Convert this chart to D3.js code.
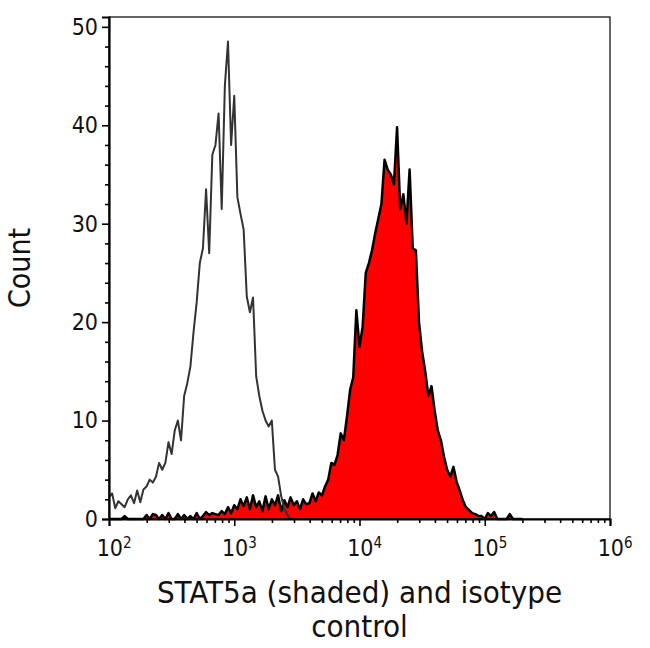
<!DOCTYPE html>
<html>
<head>
<meta charset="utf-8">
<script src="https://cdn.jsdelivr.net/npm/d3@7"></script>
<style>
  html, body { margin: 0; padding: 0; background: #fff; }
  svg { display: block; }
  text { font-family: "DejaVu Sans Condensed", "DejaVu Sans", sans-serif; font-stretch: condensed; fill: #111; }
</style>
</head>
<body>
<svg id="chart" width="650" height="648"></svg>
<script>
// ---- data (counts per log channel, channel width 0.025 decades starting at 10^2) ----
const channelStartLog = 2;
const channelStep = 0.025;

const isotypeCounts = [
  2.2, 2.6, 1.1, 1.8, 1.5, 1.2, 2.0, 2.4, 1.6, 2.9,
  1.7, 3.0, 3.3, 4.0, 3.7, 4.3, 5.7, 5.0, 5.7, 7.8,
  6.6, 9.0, 10.0, 8.0, 12.5, 13.8, 15.5, 19.0, 22.0, 26.0,
  27.5, 33.5, 27.0, 37.0, 38.0, 41.2, 31.5, 44.0, 48.5, 38.0,
  43.0, 32.7, 31.0, 29.4, 22.6, 21.0, 22.5, 14.5, 12.5, 11.0,
  10.0, 9.4, 10.0, 5.0, 4.3, 2.3, 1.0, 0.4, 0, 0,
  0, 0, 0, 0, 0, 0, 0, 0, 0, 0,
  0, 0, 0, 0, 0, 0, 0, 0, 0, 0,
  0, 0, 0, 0, 0, 0, 0, 0, 0, 0,
  0, 0, 0, 0, 0, 0, 0, 0, 0, 0,
  0, 0, 0, 0, 0, 0, 0, 0, 0, 0,
  0, 0, 0, 0, 0, 0, 0, 0, 0, 0,
  0, 0, 0, 0, 0, 0, 0, 0, 0, 0,
  0, 0, 0
];

const stat5aCounts = [
  0, 0, 0, 0, 0, 0.3, 0, 0, 0, 0,
  0, 0, 0.4, 0, 0.5, 0.4, 0, 0.4, 0, 0.6,
  0, 0, 0.5, 0, 0.4, 0, 0.3, 0, 0.6, 0,
  0.3, 0.7, 0.4, 0.6, 0.5, 0.4, 0.8, 0.5, 1.2, 0.6,
  1.4, 1.0, 2.0, 1.3, 2.2, 1.0, 2.4, 1.2, 1.8, 0.8,
  2.3, 1.0, 2.0, 1.4, 2.4, 0.8, 1.9, 1.2, 2.2, 1.4,
  1.8, 1.0, 2.0, 1.5, 1.6, 2.6, 1.8, 2.7, 2.4, 3.3,
  4.0, 5.7, 5.5, 6.5, 8.7, 8.0, 10.4, 13.1, 14.4, 21.2,
  17.5, 19.5, 25.0, 26.0, 27.3, 29.0, 30.5, 32.0, 36.5, 35.5,
  35.0, 34.0, 39.8, 31.5, 33.0, 30.0, 35.5, 27.5, 27.3, 20.0,
  17.0, 15.0, 12.5, 13.5, 11.0, 9.0, 8.0, 6.3, 5.0, 4.3,
  5.3, 3.8, 2.9, 1.9, 1.2, 0.9, 0.6, 0.5, 0.3, 0.3,
  0, 0.6, 0.3, 0.7, 0, 0, 0, 0, 0.5, 0,
  0, 0, 0
];

const yMajorTicks = [0, 10, 20, 30, 40, 50];
const yMinorTicks = [2, 4, 6, 8, 12, 14, 16, 18, 22, 24, 26, 28, 32, 34, 36, 38, 42, 44, 46, 48];
const xMajorTicks = [1e2, 1e3, 1e4, 1e5, 1e6];
const xTickExponents = ["2", "3", "4", "5", "6"];
const yLabel = "Count";
const xLabelLines = ["STAT5a (shaded) and isotype", "control"];

// ---- layout ----
const svg = d3.select("#chart");
const plotLeft = 109, plotRight = 610, plotTop = 17, plotBottom = 519;

const x = d3.scaleLog().domain([1e2, 1e6]).range([plotLeft, plotRight]);
const y = d3.scaleLinear().domain([0, 51]).range([plotBottom, plotTop]);

const chanValue = i => Math.pow(10, channelStartLog + i * channelStep);

const xMinorTicks = [];
for (let d = 2; d <= 5; d++) for (let m = 2; m <= 9; m++) xMinorTicks.push(m * Math.pow(10, d));

// ---- series ----
const statData = stat5aCounts.map((c, i) => ({ v: chanValue(i), c }));
const isoData = isotypeCounts.map((c, i) => ({ v: chanValue(i), c }));

svg.append("path")
  .datum(statData)
  .attr("fill", "#ff0000")
  .attr("d", d3.area().x(d => x(d.v)).y0(y(0)).y1(d => y(d.c)));

svg.append("path")
  .datum(statData)
  .attr("fill", "none")
  .attr("stroke", "#000")
  .attr("stroke-width", 2.5)
  .attr("stroke-linejoin", "round")
  .attr("d", d3.line().x(d => x(d.v)).y(d => y(d.c)));

svg.append("path")
  .datum(isoData)
  .attr("fill", "none")
  .attr("stroke", "#333")
  .attr("stroke-width", 2)
  .attr("stroke-linejoin", "round")
  .attr("d", d3.line().x(d => x(d.v)).y(d => y(d.c)));

// ---- frame ----
svg.append("rect")
  .attr("x", plotLeft).attr("y", plotTop)
  .attr("width", plotRight - plotLeft).attr("height", plotBottom - plotTop)
  .attr("fill", "none").attr("stroke", "#000").attr("stroke-width", 1.2);

// ---- y axis ----
const yAxisG = svg.append("g").attr("transform", `translate(${plotLeft},0)`);
yAxisG.call(d3.axisLeft(y).tickValues(yMajorTicks).tickSize(7).tickPadding(4).tickFormat(d3.format("d")));
yAxisG.select(".domain").attr("stroke-width", 2.2);
yAxisG.selectAll(".tick line").attr("stroke-width", 1.6);
yAxisG.selectAll(".tick text").style("font-size", "23px").attr("fill", "#111");
const yMinorG = svg.append("g").attr("transform", `translate(${plotLeft},0)`);
yMinorG.call(d3.axisLeft(y).tickValues(yMinorTicks).tickSize(4).tickFormat(""));
yMinorG.select(".domain").remove();
yMinorG.selectAll(".tick line").attr("stroke-width", 1.6);

// ---- x axis ----
const xAxisG = svg.append("g").attr("transform", `translate(0,${plotBottom})`);
xAxisG.call(d3.axisBottom(x).tickValues(xMajorTicks).tickSize(7).tickPadding(6).tickFormat(() => ""));
xAxisG.select(".domain").attr("stroke-width", 2);
xAxisG.selectAll(".tick line").attr("stroke-width", 1.6);
xAxisG.selectAll(".tick text").each(function (d, i) {
  const t = d3.select(this).style("font-size", "23px").attr("dy", "1.05em").attr("dx", "0.2em");
  t.append("tspan").text("10");
  t.append("tspan").attr("dy", "-0.55em").style("font-size", "15px").text(xTickExponents[i]);
});
const xMinorG = svg.append("g").attr("transform", `translate(0,${plotBottom})`);
xMinorG.call(d3.axisBottom(x).tickValues(xMinorTicks).tickSize(4).tickFormat(""));
xMinorG.select(".domain").remove();
xMinorG.selectAll(".tick line").attr("stroke-width", 1.6);

// ---- labels ----
svg.append("text")
  .attr("transform", `translate(30,268) rotate(-90)`)
  .attr("text-anchor", "middle")
  .style("font-size", "30px")
  .text(yLabel);

xLabelLines.forEach((line, i) => {
  svg.append("text")
    .attr("x", (plotLeft + plotRight) / 2)
    .attr("y", 603 + i * 34)
    .attr("text-anchor", "middle")
    .style("font-size", "31px")
    .text(line);
});
</script>
</body>
</html>
